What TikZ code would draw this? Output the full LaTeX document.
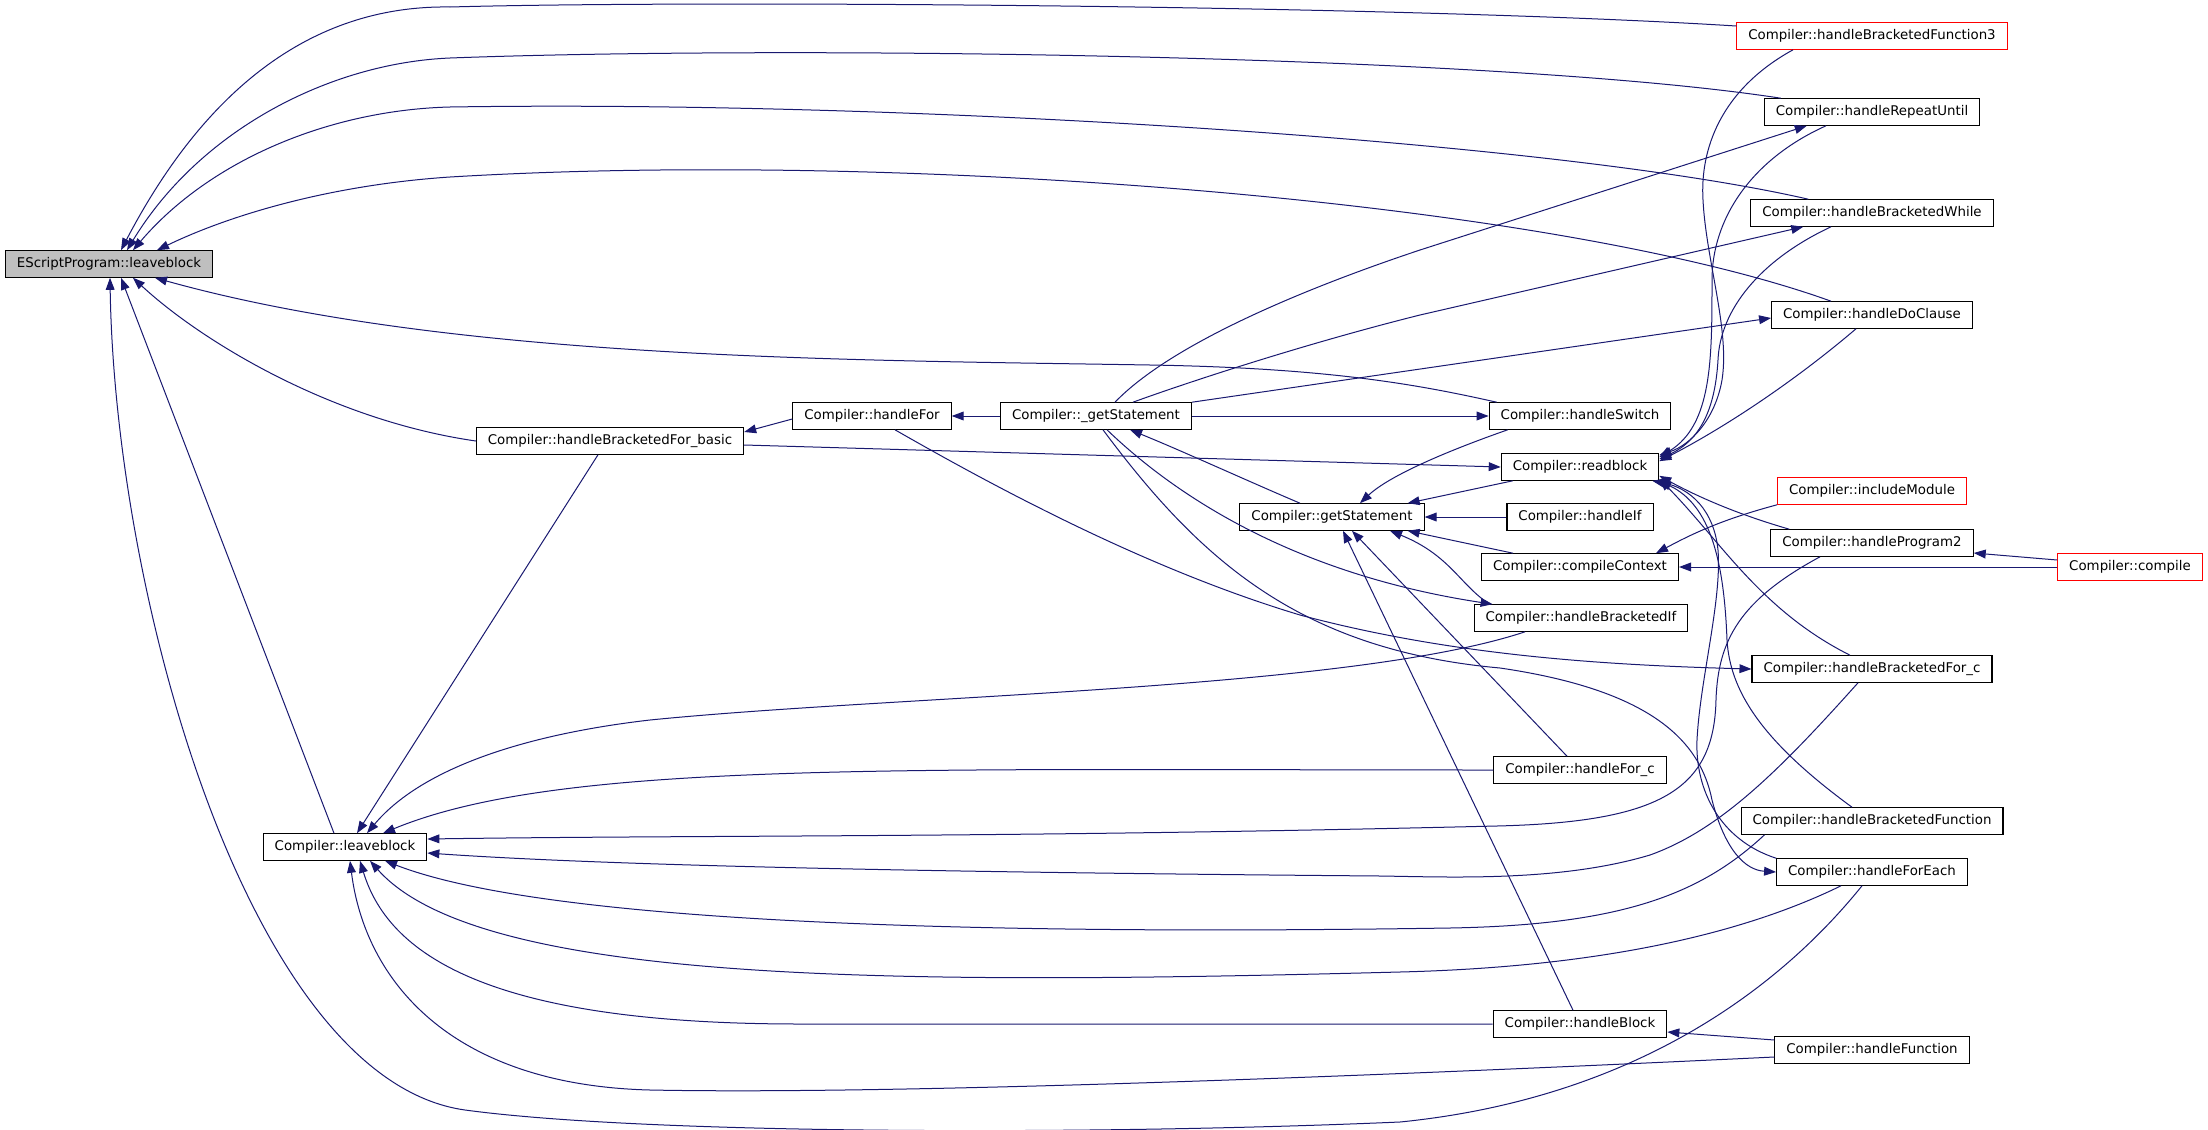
\documentclass[tikz,border=0pt]{standalone}
\usepackage{fontspec}
\newfontfamily\graphfont{DejaVu Sans}
\usepackage{tikz}
\usetikzlibrary{arrows.meta,calc}
\definecolor{edgeblue}{RGB}{25,25,112}
\definecolor{rootgrey}{RGB}{191,191,191}

\begin{document}
\begin{tikzpicture}[x=0.5pt,y=-0.5pt,
		func/.style={draw=black, fill=white, line width=0.55pt,
		font=\graphfont\fontsize{6.68pt}{8pt}\selectfont,
		inner xsep=5.75pt, inner ysep=0pt, minimum height=13.25pt},
		funcred/.style={func, draw=red},
		call/.style={draw=edgeblue, line width=0.5pt, -{Triangle[length=6pt,width=4.4pt]}}]
		\fill[white] (0,0) rectangle (2208,1130);
		\useasboundingbox (0,0) rectangle (2208,1130);

		% functions
		\node[func, fill=rootgrey] (E) at (109,264) {EScriptProgram::leaveblock};
		\node[func] (L) at (345,847) {Compiler::leaveblock};
		\node[func] (basic) at (610,441) {Compiler::handleBracketedFor\_basic};
		\node[func] (hfor) at (872,416) {Compiler::handleFor};
		\node[func] (gstmtu) at (1096,416) {Compiler::\_getStatement};
		\node[func] (gstmt) at (1332,517) {Compiler::getStatement};
		\node[func] (hswitch) at (1580,416) {Compiler::handleSwitch};
		\node[func] (readblock) at (1580,467) {Compiler::readblock};
		\node[func] (hif) at (1580,517) {Compiler::handleIf};
		\node[func] (cctx) at (1580,567) {Compiler::compileContext};
		\node[func] (hbif) at (1581,618) {Compiler::handleBracketedIf};
		\node[func] (hforc) at (1580,770) {Compiler::handleFor\_c};
		\node[func] (hblock) at (1580,1024) {Compiler::handleBlock};
		\node[funcred] (hbf3) at (1872,36) {Compiler::handleBracketedFunction3};
		\node[func] (hrepeat) at (1872,112) {Compiler::handleRepeatUntil};
		\node[func] (hbwhile) at (1872,213) {Compiler::handleBracketedWhile};
		\node[func] (hdo) at (1872,315) {Compiler::handleDoClause};
		\node[funcred] (incmod) at (1872,491) {Compiler::includeModule};
		\node[func] (hprog2) at (1872,543) {Compiler::handleProgram2};
		\node[funcred] (compile) at (2130,567) {Compiler::compile};
		\node[func] (hbforc) at (1872,669) {Compiler::handleBracketedFor\_c};
		\node[func] (hbfunc) at (1872,821) {Compiler::handleBracketedFunction};
		\node[func] (hforeach) at (1872,872) {Compiler::handleForEach};
		\node[func] (hfunc) at (1872,1050) {Compiler::handleFunction};

		% callers of EScriptProgram::leaveblock
		\draw[call] ($(hbf3.west)+(0,-10)$) .. controls (1400,5) and (700,0) .. (450,7) .. controls (320,5) and (210,80) .. ($(E.north)+(12,0)$);
		\draw[call] ($(hrepeat.north west)+(17,0)$) .. controls (1500,55) and (800,45) .. (450,58) .. controls (330,63) and (200,130) .. ($(E.north)+(18,0)$);
		\draw[call] ($(hbwhile.north west)+(58,0)$) .. controls (1550,140) and (900,100) .. (450,107) .. controls (330,110) and (210,160) .. ($(E.north)+(24,0)$);
		\draw[call] ($(hdo.north west)+(60,0)$) .. controls (1550,200) and (900,150) .. (450,177) .. controls (330,185) and (230,215) .. ($(E.north)+(48,0)$);
		\draw[call] ($(hswitch.north west)+(8,0)$) .. controls (1420,385) and (1330,368) .. (1150,365) .. controls (850,360) and (450,360) .. ($(E.south)+(46,0)$);
		\draw[call] (basic.west) .. controls (330,420) and (200,340) .. ($(E.south)+(24,0)$);
		\draw[call] ($(L.north)+(-11,0)$) -- ($(E.south)+(12,0)$);
		\draw[call] ($(hforeach.south)+(-10,0)$) .. controls (1770,1000) and (1620,1100) .. (1400,1122) .. controls (1100,1135) and (650,1135) .. (465,1110) .. controls (250,1080) and (115,600) .. ($(E.south)+(1,0)$);

		% callers of Compiler::leaveblock
		\draw[call] ($(basic.south)+(-12,0)$) -- ($(L.north)+(12,0)$);
		\draw[call] ($(hbif.south)+(-56,0)$) .. controls (1350,690) and (900,695) .. (650,720) .. controls (520,735) and (420,770) .. ($(L.north)+(22,0)$);
		\draw[call] (hforc.west) .. controls (900,770) and (560,760) .. ($(L.north)+(38,0)$);
		\draw[call] ($(hprog2.south)+(-52,0)$) .. controls (1740,600) and (1718,640) .. (1716,700) .. controls (1714,790) and (1660,822) .. (1497,826) .. controls (1000,838) and (700,835) .. ($(L.east)+(0,-8)$);
		\draw[call] ($(hbforc.south)+(-14,0)$) .. controls (1780,770) and (1720,830) .. (1650,855) .. controls (1560,882) and (1450,877) .. (1380,876) .. controls (900,872) and (600,865) .. ($(L.east)+(0,6)$);
		\draw[call] ($(hbfunc.south west)+(24,0)$) .. controls (1700,895) and (1620,925) .. (1450,928) .. controls (1000,935) and (550,925) .. ($(L.south)+(40,0)$);
		\draw[call] ($(hforeach.south)+(-31,0)$) .. controls (1720,945) and (1560,968) .. (1400,972) .. controls (900,985) and (480,985) .. ($(L.south)+(25,0)$);
		\draw[call] (hblock.west) -- (800,1024) .. controls (500,1024) and (390,960) .. ($(L.south)+(15,0)$);
		\draw[call] ($(hfunc.west)+(0,7)$) .. controls (1400,1075) and (900,1095) .. (650,1090) .. controls (450,1085) and (365,980) .. ($(L.south)+(5,0)$);

		% callers of Compiler::readblock
		\draw[call] ($(basic.east)+(0,4)$) -- (readblock.west);
		\draw[call] ($(hbf3.south)+(-79,0)$) .. controls (1720,90) and (1700,150) .. (1703,200) .. controls (1706,260) and (1730,330) .. (1722,380) .. controls (1715,420) and (1690,445) .. ($(readblock.north east)+(0,2)$);
		\draw[call] ($(hrepeat.south)+(-46,0)$) .. controls (1750,160) and (1712,220) .. (1712,280) .. controls (1712,360) and (1712,425) .. ($(readblock.north east)+(0,4)$);
		\draw[call] ($(hbwhile.south)+(-41,0)$) .. controls (1760,260) and (1720,310) .. (1718,360) .. controls (1715,410) and (1700,440) .. ($(readblock.north east)+(0,6)$);
		\draw[call] ($(hdo.south)+(-16,0)$) .. controls (1790,385) and (1720,430) .. ($(readblock.north east)+(0,8)$);
		\draw[call] ($(hprog2.north west)+(19,0)$) .. controls (1740,515) and (1700,498) .. ($(readblock.south east)+(0,-5)$);
		\draw[call] ($(hbforc.north)+(-22,0)$) .. controls (1760,610) and (1720,540) .. ($(readblock.south east)+(0,-2)$);
		\draw[call] ($(hbfunc.north)+(-20,0)$) .. controls (1760,740) and (1730,690) .. (1727,640) .. controls (1724,560) and (1710,505) .. (readblock.south east);
		\draw[call] (hforeach.north west) .. controls (1720,840) and (1695,790) .. (1697,740) .. controls (1700,680) and (1722,600) .. (1718,550) .. controls (1714,510) and (1690,488) .. ($(readblock.south east)+(-7,0)$);

		% callers of Compiler::getStatement
		\draw[call] ($(readblock.south west)+(12,0)$) -- ($(gstmt.north east)+(-17,0)$);
		\draw[call] ($(hswitch.south west)+(19,0)$) .. controls (1450,450) and (1390,475) .. ($(gstmt.north)+(28,0)$);
		\draw[call] (hif.west) -- (gstmt.east);
		\draw[call] ($(cctx.north west)+(32,0)$) -- ($(gstmt.south east)+(-17,0)$);
		\draw[call] ($(hbif.north west)+(16,0)$) .. controls (1460,585) and (1450,555) .. ($(gstmt.south)+(58,0)$);
		\draw[call] ($(hforc.north)+(-13,0)$) -- ($(gstmt.south)+(20,0)$);
		\draw[call] ($(hblock.north)+(-7,0)$) -- ($(gstmt.south)+(11,0)$);
		\draw[call] ($(gstmt.north)+(-32,0)$) .. controls (1250,482) and (1180,450) .. ($(gstmtu.south)+(34,0)$);

		% called from Compiler::_getStatement
		\draw[call] (gstmtu.west) -- (hfor.east);
		\draw[call] ($(gstmtu.north)+(19,0)$) .. controls (1170,345) and (1300,290) .. (1420,250) -- ($(hrepeat.south west)+(43,0)$);
		\draw[call] ($(gstmtu.north)+(37,0)$) .. controls (1180,385) and (1300,345) .. (1420,315) -- ($(hbwhile.south west)+(53,0)$);
		\draw[call] (gstmtu.north east) -- ($(hdo.west)+(0,3)$);
		\draw[call] (gstmtu.east) -- (hswitch.west);
		\draw[call] ($(gstmtu.south)+(11,0)$) .. controls (1180,500) and (1300,575) .. ($(hbif.north west)+(19,0)$);
		\draw[call] ($(gstmtu.south)+(7,0)$) .. controls (1200,560) and (1300,650) .. (1500,668) .. controls (1650,690) and (1700,740) .. (1712,800) .. controls (1725,850) and (1745,870) .. (hforeach.west);

		% the rest
		\draw[call] ($(hfor.west)+(0,3)$) -- ($(basic.east)+(0,-9)$);
		\draw[call] ($(hfor.south)+(23,0)$) .. controls (1000,490) and (1150,570) .. (1300,615) .. controls (1450,655) and (1600,665) .. (hbforc.west);
		\draw[call] (incmod.south west) .. controls (1720,520) and (1690,535) .. ($(cctx.north east)+(-23,0)$);
		\draw[call] (compile.west) -- (cctx.east);
		\draw[call] ($(compile.west)+(0,-7)$) -- ($(hprog2.east)+(0,10)$);
		\draw[call] ($(hfunc.west)+(0,-10)$) -- ($(hblock.east)+(0,8)$);
	\end{tikzpicture}
\end{document}
